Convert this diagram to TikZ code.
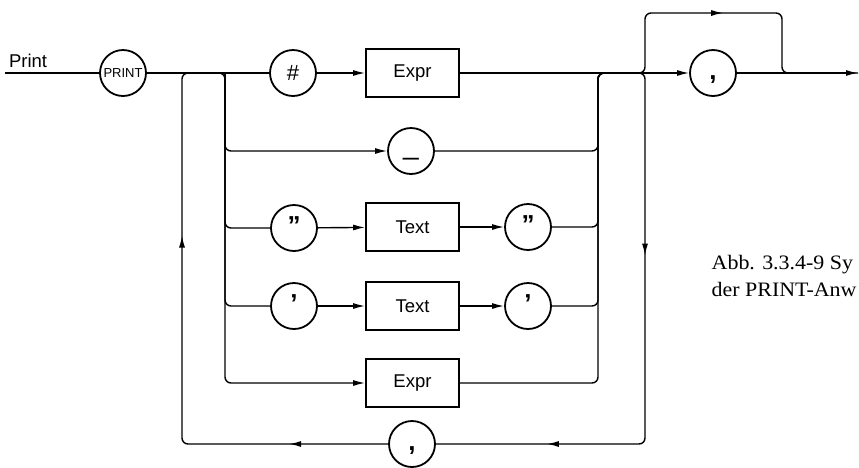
\documentclass[tikz,border=0pt]{standalone}
\usepackage{fontspec}
\setmainfont{Liberation Serif}
\setsansfont{Liberation Sans}
\newfontfamily\capfont[FakeStretch=1.07]{Liberation Serif}
\usetikzlibrary{arrows.meta,decorations.markings}

\begin{document}
\begin{tikzpicture}[x=1pt,y=-1pt,line width=1.4pt,
  >={Latex[length=12pt,width=6pt]},
  lbl/.style={font=\sffamily\fontsize{18.5}{18.5}\selectfont},
  sym/.style={font=\sffamily\bfseries\fontsize{26}{26}\selectfont},
  term/.style={circle,draw,line width=1.8pt,minimum size=46pt,inner sep=0pt,lbl},
  nterm/.style={rectangle,draw,line width=1.8pt,minimum width=93pt,minimum height=48pt,inner sep=0pt,lbl},
  arrowat/.style={postaction={decorate,decoration={markings,mark=at position #1 with {\arrow{>}}}}}]
\useasboundingbox (0,0) rectangle (859,467);
% terminals and boxes
\node[lbl,anchor=base west] (print) at (5,67) {Print};
\node[term,font=\sffamily\fontsize{13}{13}\selectfont] (kwprint) at (123,73) {PRINT};
\node[term,font=\sffamily\fontsize{22}{22}\selectfont] (hash) at (293,73) {\#};
\node[nterm] (expr1) at (412.5,73) {Expr};
\node[term] (under) at (411,151) {\vphantom{Ag}\fontsize{28}{28}\selectfont\_};
\node[term,sym] (dq1) at (294,228) {\vphantom{Ag}”};
\node[nterm] (text1) at (412.5,227) {Text};
\node[term,sym] (dq2) at (528,227) {\vphantom{Ag}”};
\node[term,sym] (sq1) at (294,306) {\vphantom{Ag}’};
\node[nterm] (text2) at (412.5,306) {Text};
\node[term,sym] (sq2) at (528,306) {\vphantom{Ag}’};
\node[nterm] (expr2) at (412.5,383) {Expr};
\node[term,sym] (sepa) at (412,444) {\vphantom{Ag},};
\node[term,sym] (sepb) at (713,73) {\vphantom{Ag},};
\node[font=\capfont\fontsize{20.5}{27}\selectfont,align=left,anchor=base west,inner sep=0pt] (caption) at (711,296) {Abb. 3.3.4-9 Sy\\der PRINT-Anw};
% junctions
\coordinate (start) at (5,73);
\coordinate (jl) at (225,73);
\coordinate (jc) at (598,73);
\coordinate (jr) at (645,73);
\coordinate (lu) at (182,73);
\coordinate (ll) at (182,444);
\coordinate (bl) at (645,13);
\coordinate (br) at (782,13);
\coordinate (bj) at (782,73);
\coordinate (stop) at (858,73);
% main line
\draw (start) -- (kwprint);
\draw (kwprint) -- (hash);
\draw[->] (hash) -- (expr1);
\draw (expr1) -- (jr);
\draw[->] (jr) -- (sepb);
\draw[->] (sepb) -- (stop);
% alternatives
\draw[->,rounded corners=6pt] (kwprint) -- (jl) |- (expr2);
\draw[->,rounded corners=6pt] (jl) |- (under);
\draw[rounded corners=6pt] (jl) |- (dq1);
\draw[rounded corners=6pt] (jl) |- (sq1);
\draw[->] (dq1) -- (text1);
\draw[->] (text1) -- (dq2);
\draw[->] (sq1) -- (text2);
\draw[->] (text2) -- (sq2);
\draw[rounded corners=6pt] (under) -| (jc) -- (jr);
\draw[rounded corners=6pt] (dq2) -| (jc) -- (jr);
\draw[rounded corners=6pt] (sq2) -| (jc) -- (jr);
\draw[rounded corners=6pt] (expr2) -| (jc) -- (jr);
% loop back and bypass
\draw[rounded corners=6pt,arrowat=227pt,arrowat=511pt] (jc) -- (jr) -- (jr |- sepa) -- (sepa);
\draw[rounded corners=6pt,arrowat=99pt,arrowat=412pt] (sepa) -- (ll) -- (lu) -- (jl);
\draw[rounded corners=6pt,arrowat=180pt] (jc) -- (jr) -- (bl) -- (br) -- (bj) -- (stop);
\end{tikzpicture}
\end{document}
